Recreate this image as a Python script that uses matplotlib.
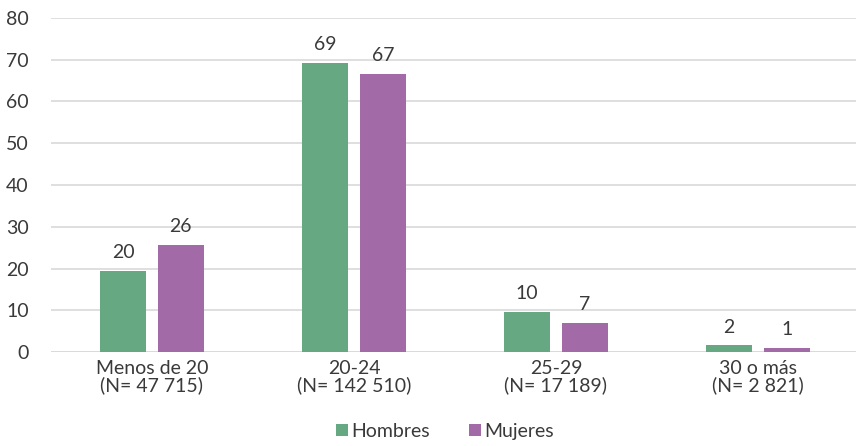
import numpy as np
import matplotlib
matplotlib.use("Agg")
import matplotlib.pyplot as plt

plt.rcParams['font.family'] = ['Lato', 'DejaVu Sans']

categories = ["Menos de 20\n(N= 47 715)", "20-24\n(N= 142 510)", "25-29\n(N= 17 189)", "30 o más\n(N= 2 821)"]
hombres = [19.5, 69.2, 9.6, 1.6]
mujeres = [25.6, 66.6, 6.9, 1.0]
hombres_lbl = ["20", "69", "10", "2"]
mujeres_lbl = ["26", "67", "7", "1"]

green = "#66a882"
purple = "#a26ba8"
textc = "#3a3a3a"

fig = plt.figure(figsize=(8.56, 4.46), dpi=100)
ax = fig.add_axes([51/856, 94/446, 808/856, 334/446])

x = np.arange(len(categories))
w = 0.228
off = 0.143
b1 = ax.bar(x - off, hombres, w, color=green, label="Hombres", zorder=3)
b2 = ax.bar(x + off, mujeres, w, color=purple, label="Mujeres", zorder=3)

for bars, lbls in ((b1, hombres_lbl), (b2, mujeres_lbl)):
    for r, t in zip(bars, lbls):
        ax.annotate(t, (r.get_x() + r.get_width()/2, r.get_height()),
                    xytext=(0, 7), textcoords="offset points",
                    ha="center", va="bottom", fontsize=14, color=textc)

ax.set_xlim(-0.5, 3.5)
ax.set_ylim(0, 80)
ax.set_yticks(range(0, 81, 10))
ax.set_xticks(x)
ax.set_xticklabels(categories, fontsize=14, color=textc, linespacing=0.95)
ax.tick_params(axis='y', length=0, pad=16, labelsize=14, labelcolor=textc)
ax.tick_params(axis='x', length=0, pad=6)
ax.grid(axis='y', color="#d9d9d9", linewidth=1.2, zorder=0)
for s in ax.spines.values():
    s.set_visible(False)
ax.axhline(0, color="#d9d9d9", linewidth=1.2, zorder=2)

fig.legend(loc="lower center", bbox_to_anchor=(0.52, -0.025), ncol=2, frameon=False,
           fontsize=14, handlelength=0.6, handleheight=0.6, handletextpad=0.2,
           columnspacing=2.0, labelcolor=textc)

fig.savefig("out.png", dpi=100)
